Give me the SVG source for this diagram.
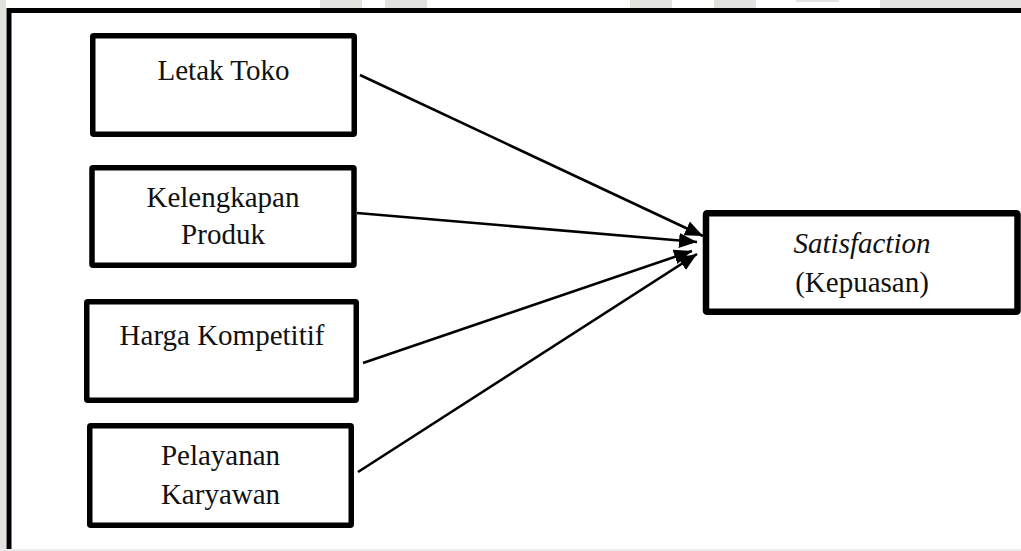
<svg xmlns="http://www.w3.org/2000/svg" width="1021" height="551" viewBox="0 0 1021 551">
  <style>
    .box { fill: #ffffff; stroke: #000000; stroke-width: 5.5; stroke-linejoin: round; }
    .box-main { fill: #ffffff; stroke: #000000; stroke-width: 6.5; stroke-linejoin: round; }
    .label { font-family: "Liberation Serif", "Times New Roman", serif; font-size: 29px; fill: #111111; text-anchor: middle; }
    .edge { stroke: #000000; stroke-width: 2.6; fill: none; marker-end: url(#arrow); }
    .band { fill: #e2e3df; }
  </style>
  <defs>
    <marker id="arrow" markerUnits="userSpaceOnUse" markerWidth="20" markerHeight="16" refX="18" refY="7.5" orient="auto">
      <path d="M0,0 L18,7.5 L0,15 z" fill="#000000"/>
    </marker>
  </defs>

  <!-- page background and margin strips -->
  <rect x="0" y="0" width="1021" height="551" fill="#ffffff"/>
  <rect class="band" x="0" y="0" width="6" height="551"/>
  <rect class="band" x="320" y="0" width="42" height="8"/>
  <rect class="band" x="385" y="0" width="42" height="8"/>
  <rect class="band" x="630" y="0" width="42" height="8"/>
  <rect class="band" x="714" y="0" width="42" height="8"/>
  <rect class="band" x="796" y="0" width="43" height="2"/>
  <rect class="band" x="880" y="0" width="141" height="8"/>
  <rect x="0" y="549" width="1021" height="2" fill="#ebebeb"/>

  <!-- outer frame (top and left edges) -->
  <path d="M9,549 L9,10.5 L1021,10.5" fill="none" stroke="#000000" stroke-width="5"/>

  <!-- connectors -->
  <g id="connectors">
    <line class="edge" x1="360" y1="75" x2="703" y2="236"/>
    <line class="edge" x1="357" y1="213" x2="697" y2="242"/>
    <line class="edge" x1="363" y1="363" x2="692" y2="251"/>
    <line class="edge" x1="358" y1="472" x2="697" y2="254"/>
  </g>

  <g id="node-letak-toko">
    <rect class="box" x="92.75" y="35.75" width="261.5" height="98.5" rx="1"/>
    <text class="label" x="223.5" y="80">Letak Toko</text>
  </g>

  <g id="node-kelengkapan-produk">
    <rect class="box" x="92" y="167.75" width="262" height="97.5" rx="1"/>
    <text class="label" x="223" y="206.5">Kelengkapan</text>
    <text class="label" x="223" y="244">Produk</text>
  </g>

  <g id="node-harga-kompetitif">
    <rect class="box" x="86.75" y="301.75" width="269.5" height="98.5" rx="1"/>
    <text class="label" x="222" y="345">Harga Kompetitif</text>
  </g>

  <g id="node-pelayanan-karyawan">
    <rect class="box" x="89.75" y="425.75" width="261.5" height="99.5" rx="1"/>
    <text class="label" x="220.5" y="465">Pelayanan</text>
    <text class="label" x="220.5" y="504">Karyawan</text>
  </g>

  <g id="node-satisfaction">
    <rect class="box-main" x="706" y="213.25" width="311.5" height="98.5" rx="1"/>
    <text class="label" x="862" y="252.5" font-style="italic">Satisfaction</text>
    <text class="label" x="862" y="291.5">(Kepuasan)</text>
  </g>
</svg>
